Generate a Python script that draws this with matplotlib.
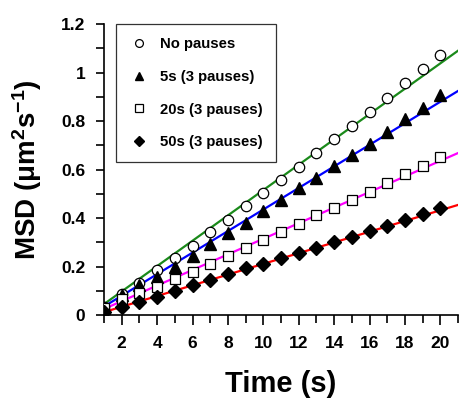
import matplotlib
matplotlib.use("Agg")
import matplotlib.pyplot as plt
from matplotlib.ticker import MultipleLocator

plt.rcParams['font.family'] = ['Liberation Sans', 'DejaVu Sans']
plt.rcParams['font.weight'] = 'bold'
plt.rcParams['mathtext.fontset'] = 'custom'
plt.rcParams['mathtext.rm'] = 'Liberation Sans:bold'
plt.rcParams['mathtext.bf'] = 'Liberation Sans:bold'
plt.rcParams['mathtext.it'] = 'Liberation Sans:bold'

# time lags (s)
time = list(range(1, 21))

# MSD values
msd_no_pauses = [0.034, 0.087, 0.133, 0.186, 0.234, 0.285, 0.341, 0.392, 0.451, 0.502,
                 0.557, 0.612, 0.667, 0.724, 0.779, 0.838, 0.894, 0.955, 1.013, 1.073]
msd_5s = [0.030, 0.082, 0.124, 0.158, 0.200, 0.243, 0.293, 0.337, 0.378, 0.429,
          0.474, 0.522, 0.564, 0.616, 0.660, 0.705, 0.756, 0.807, 0.855, 0.907]
msd_20s = [0.030, 0.068, 0.092, 0.117, 0.147, 0.179, 0.209, 0.243, 0.275, 0.309,
           0.344, 0.375, 0.411, 0.442, 0.474, 0.508, 0.543, 0.580, 0.614, 0.650]
msd_50s = [0.014, 0.034, 0.055, 0.076, 0.099, 0.124, 0.144, 0.169, 0.192, 0.210,
           0.234, 0.257, 0.275, 0.300, 0.323, 0.346, 0.368, 0.392, 0.415, 0.440]

# linear fit lines (end points)
fit_x = [1, 21]
fit_no_pauses = [0.045, 1.090]
fit_5s = [0.035, 0.924]
fit_20s = [0.025, 0.668]
fit_50s = [0.012, 0.454]

labels = ['No pauses', '5s (3 pauses)', '20s (3 pauses)', '50s (3 pauses)']

fig = plt.figure(figsize=(4.61, 3.99), dpi=100)
ax = fig.add_axes([0.2256, 0.2105, 0.768, 0.7293])

ax.plot(fit_x, fit_no_pauses, color='#1a8a1a', lw=1.6, zorder=2)
ax.plot(fit_x, fit_5s, color='#0000ff', lw=1.6, zorder=2)
ax.plot(fit_x, fit_20s, color='#ff00ff', lw=1.6, zorder=2)
ax.plot(fit_x, fit_50s, color='#ff0000', lw=1.6, zorder=2)

ax.plot(time, msd_no_pauses, 'o', ms=7.5, mfc='white', mec='black', mew=0.9,
        label=labels[0], zorder=3)
ax.plot(time, msd_5s, '^', ms=8.5, mfc='black', mec='black', label=labels[1], zorder=3)
ax.plot(time, msd_20s, 's', ms=7, mfc='white', mec='black', mew=0.9,
        label=labels[2], zorder=3)
ax.plot(time, msd_50s, 'D', ms=6.8, mfc='black', mec='black', label=labels[3], zorder=3)

ax.set_xlim(1, 21)
ax.set_ylim(0, 1.2)
ax.xaxis.set_major_locator(MultipleLocator(2))
ax.xaxis.set_minor_locator(MultipleLocator(1))
ax.yaxis.set_major_locator(MultipleLocator(0.2))
ax.yaxis.set_minor_locator(MultipleLocator(0.1))
ax.set_xticks([2, 4, 6, 8, 10, 12, 14, 16, 18, 20])
ax.set_yticks([0, 0.2, 0.4, 0.6, 0.8, 1.0, 1.2])
ax.set_yticklabels(['0', '0.2', '0.4', '0.6', '0.8', '1', '1.2'])

for s in ['top', 'right']:
    ax.spines[s].set_visible(False)
for s in ['left', 'bottom']:
    ax.spines[s].set_linewidth(1.2)

ax.tick_params(axis='both', which='both', direction='out', width=1.2, labelsize=12.5)
ax.tick_params(axis='x', which='major', length=7, pad=8)
ax.tick_params(axis='x', which='minor', length=6)
ax.tick_params(axis='y', which='both', length=5.5, pad=8)

ax.set_xlabel('Time (s)', fontsize=21, fontweight='bold', va='center')
ax.xaxis.set_label_coords(0.5, -0.237)
ax.set_ylabel(r'MSD (μm$^{\mathbf{2}}$s$^{\mathbf{-1}}$)', fontsize=20, fontweight='bold')
ax.yaxis.set_label_coords(-0.17, 0.5)

leg = ax.legend(loc='upper left', bbox_to_anchor=(0.035, 1.0), fontsize=10.7,
                markerscale=0.75, frameon=True, fancybox=False, edgecolor='black',
                borderpad=0.9, labelspacing=1.25, handletextpad=0.85, handlelength=1.2,
                borderaxespad=0)
leg.get_frame().set_linewidth(0.9)

plt.savefig('out.png', dpi=100)
plt.close()
